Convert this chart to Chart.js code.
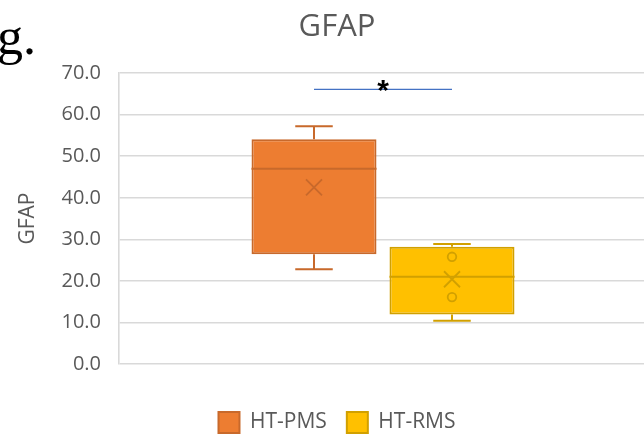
<!DOCTYPE html>
<html>
<head>
<meta charset="utf-8">
<script src="https://cdn.jsdelivr.net/npm/chart.js@4.4.0/dist/chart.umd.min.js"></script>
<style>
  html, body { margin: 0; padding: 0; background: #fff; overflow: hidden; }
  #wrap { position: relative; width: 644px; height: 436px; overflow: hidden; background: #fff; }
  #c { position: absolute; left: 0; top: 0; }
  #frag { position: absolute; left: -3px; top: 11px; font-family: 'Liberation Serif', serif; font-size: 52px; line-height: 52px; color: #000; white-space: nowrap; }
</style>
</head>
<body>
<div id="wrap">
  <canvas id="c" width="660" height="443"></canvas>
  <div id="frag">g.</div>
</div>
<script>
// ---- data ----
const groups = ['HT-PMS', 'HT-RMS'];
const q1 = [26.4, 11.9];
const q3 = [54.1, 28.2];
const median = [47.0, 21.0];
const mean = [42.5, 20.4];
const whiskerMin = [22.8, 10.4];
const whiskerMax = [57.2, 28.9];
const innerPoints = [[], [25.8, 16.1]];
const sigLevel = [66.1];
const sigLabel = ['*'];
const yTickValues = [0, 10, 20, 30, 40, 50, 60, 70];

// ---- styles ----
const fills = ['#ED7D31', '#FFC000'];
const strokes = ['#C8692B', '#D1A000'];
const textColor = '#595959';

const boxPlugin = {
  id: 'boxExtras',
  afterDatasetsDraw(chart) {
    const ctx = chart.ctx;
    const y = chart.scales.y;
    const centers = [];
    groups.forEach((g, i) => {
      const meta = chart.getDatasetMeta(i);
      const bar = meta.data[0];
      if (!bar) return;
      const cx = bar.x;
      const w = bar.width;
      centers.push(cx);
      const col = strokes[i];
      ctx.save();
      ctx.strokeStyle = col;
      ctx.lineWidth = 2;
      ctx.lineCap = 'butt';
      const capHalf = w * 0.15;
      ctx.beginPath();
      ctx.moveTo(cx, y.getPixelForValue(q3[i]));
      ctx.lineTo(cx, y.getPixelForValue(whiskerMax[i]));
      ctx.moveTo(cx - capHalf, y.getPixelForValue(whiskerMax[i]));
      ctx.lineTo(cx + capHalf, y.getPixelForValue(whiskerMax[i]));
      ctx.moveTo(cx, y.getPixelForValue(q1[i]));
      ctx.lineTo(cx, y.getPixelForValue(whiskerMin[i]));
      ctx.moveTo(cx - capHalf, y.getPixelForValue(whiskerMin[i]));
      ctx.lineTo(cx + capHalf, y.getPixelForValue(whiskerMin[i]));
      ctx.moveTo(cx - w / 2, y.getPixelForValue(median[i]));
      ctx.lineTo(cx + w / 2, y.getPixelForValue(median[i]));
      ctx.stroke();
      const my = y.getPixelForValue(mean[i]);
      const s = 8;
      ctx.lineWidth = 1.8;
      ctx.beginPath();
      ctx.moveTo(cx - s, my - s); ctx.lineTo(cx + s, my + s);
      ctx.moveTo(cx - s, my + s); ctx.lineTo(cx + s, my - s);
      ctx.stroke();
      innerPoints[i].forEach(v => {
        ctx.beginPath();
        ctx.arc(cx, y.getPixelForValue(v), 4.3, 0, Math.PI * 2);
        ctx.stroke();
      });
      ctx.restore();
    });
    if (centers.length === 2) {
      const sy = y.getPixelForValue(sigLevel[0]);
      ctx.save();
      ctx.strokeStyle = '#4472C4';
      ctx.lineWidth = 1.3;
      ctx.beginPath();
      ctx.moveTo(centers[0], sy);
      ctx.lineTo(centers[1], sy);
      ctx.stroke();
      ctx.fillStyle = '#000';
      ctx.font = 'bold 30px "Liberation Sans"';
      ctx.textAlign = 'center';
      ctx.textBaseline = 'alphabetic';
      ctx.fillText(sigLabel[0], (centers[0] + centers[1]) / 2, sy + 11);
      ctx.restore();
    }
  }
};

const datasets = groups.map((g, i) => ({
  label: g,
  data: [[q1[i], q3[i]]],
  backgroundColor: fills[i],
  borderColor: strokes[i],
  borderWidth: 2,
  borderSkipped: false,
  categoryPercentage: 0.5227,
  barPercentage: 0.906
}));

new Chart(document.getElementById('c'), {
  type: 'bar',
  data: { labels: [''], datasets },
  options: {
    responsive: false,
    animation: false,
    layout: { padding: { left: 27, right: 13, top: 0, bottom: 0 } },
    plugins: {
      tooltip: { enabled: false },
      title: {
        display: true,
        text: 'GFAP',
        color: textColor,
        font: { family: '"Open Sans"', size: 31, weight: 'normal' },
        padding: { top: 9, bottom: 27 }
      },
      legend: {
        position: 'bottom',
        labels: {
          boxWidth: 21,
          boxHeight: 21,
          padding: 20,
          color: textColor,
          font: { family: '"Open Sans"', size: 21 }
        }
      }
    },
    scales: {
      x: {
        display: true,
        grid: { display: false },
        border: { display: false },
        ticks: { display: false },
        afterFit: (s) => { s.height = 28; }
      },
      y: {
        min: 0,
        max: 70,
        afterBuildTicks: (s) => { s.ticks = yTickValues.map(v => ({ value: v })); },
        afterFit: (s) => { s.width = 119 - 27; },
        grid: { color: '#D9D9D9', lineWidth: 1.6, drawTicks: false },
        border: { display: true, color: '#D9D9D9', width: 1.6 },
        ticks: {
          padding: 18,
          color: textColor,
          font: { family: '"Open Sans"', size: 20 },
          callback: (v) => Number(v).toFixed(1)
        },
        title: {
          display: true,
          text: 'GFAP',
          color: textColor,
          font: { family: '"Open Sans"', size: 21 },
          padding: { top: -12, bottom: 0 }
        }
      }
    }
  },
  plugins: [boxPlugin]
});
</script>
</body>
</html>
